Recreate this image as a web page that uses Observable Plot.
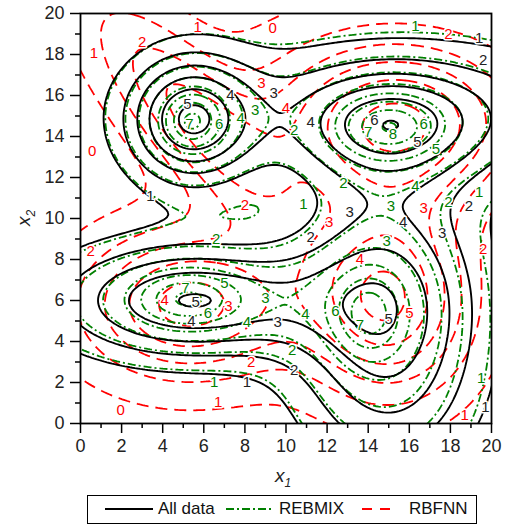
<!DOCTYPE html>
<html>
<head>
<meta charset="utf-8">
<script src="https://cdn.jsdelivr.net/npm/d3@7"></script>
<script src="https://cdn.jsdelivr.net/npm/@observablehq/plot@0.6"></script>
<style>
  html, body { margin: 0; padding: 0; background: #fff; }
  #wrap { position: relative; width: 509px; height: 526px; font-family: "Liberation Sans", Arial, sans-serif; }
  #legend { position: absolute; left: 87px; top: 495px; width: 390px; height: 29px; border: 1px solid #000; box-sizing: border-box; }
  #legend .it { position: absolute; top: 3px; font-size: 17px; line-height: 20px; color: #111; }
  #legend svg { position: absolute; top: 10px; }
</style>
</head>
<body>
<div id="wrap">
  <div id="chart"></div>
  <div id="legend"></div>
</div>
<script>
// ---- data ----
const levels = [0, 1, 2, 3, 4, 5, 6, 7, 8];
const majorTicks = [0, 2, 4, 6, 8, 10, 12, 14, 16, 18, 20];
const minorTicks = [1, 3, 5, 7, 9, 11, 13, 15, 17, 19];

// surface components: [cx, cy, sx, sy, amplitude, angleDeg]
const allDataBumps = [
  [5.35, 14.8, 2.1, 2.1, 5.45, 0],
  [15.0, 14.7, 2.8, 1.6, 2.6, 0],
  [16.0, 15.2, 7.0, 2.4, 2.7, 0],
  [15.0, 13.0, 3.0, 1.8, 0.6, 0],
  [5.3, 6.0, 4.4, 1.95, 5.0, 0],
  [14.8, 6.0, 3.2, 4.0, 4.45, 0],
  [15.2, 0.5, 3.0, 3.0, 1.25, 0]
];
const rebmixBumps = [
  [5.35, 14.8, 2.1, 2.1, 5.0, 0],
  [5.4, 14.7, 1.0, 1.0, 2.4, 0],
  [15.0, 14.7, 2.8, 1.6, 2.4, 0],
  [15.0, 14.4, 1.6, 1.0, 2.4, 0],
  [16.0, 15.3, 7.0, 2.6, 2.7, 0],
  [15.0, 13.0, 3.0, 1.8, 0.6, 0],
  [5.3, 6.0, 4.2, 1.9, 4.8, 0],
  [5.2, 6.1, 1.6, 0.9, 2.4, 0],
  [14.6, 5.9, 3.0, 3.8, 4.4, 0],
  [14.0, 5.3, 1.2, 1.5, 2.6, 0],
  [15.2, 0.5, 3.0, 3.0, 1.2, 0]
];
const rbfnnBumps = [
  [5.5, 15.0, 5.0, 1.7, 3.6, -49],
  [15.3, 14.7, 4.5, 3.0, 5.8, 0],
  [5.3, 5.8, 3.6, 2.5, 5.0, 0],
  [15.0, 6.0, 2.8, 3.2, 5.6, 0]
];
const rbfnnOffset = -0.6;

// contour labels: [x1, x2, text]
const allDataLabels = [
  [3.4, 11.1, "1"], [19.4, 18.8, "1"], [19.6, 17.7, "2"], [9.4, 16.1, "3"], [7.3, 16.0, "4"],
  [5.2, 15.6, "5"], [11.2, 14.7, "4"], [14.3, 14.8, "6"], [16.4, 13.7, "5"], [11.2, 9.1, "2"],
  [13.1, 10.3, "3"], [15.7, 9.8, "4"], [17.6, 9.3, "3"], [18.9, 10.6, "2"], [5.6, 5.9, "5"],
  [5.4, 5.0, "4"], [9.6, 4.95, "3"], [8.1, 2.0, "1"], [10.4, 2.6, "2"], [15.0, 5.1, "5"],
  [19.7, 0.8, "1"]
];
const rebmixLabels = [
  [16.3, 19.4, "1"], [10.4, 14.3, "2"], [14.0, 14.2, "7"], [15.2, 14.1, "8"], [16.7, 14.6, "6"],
  [17.3, 13.4, "5"], [16.3, 11.6, "4"], [15.1, 10.6, "3"], [17.9, 10.8, "2"], [19.4, 11.3, "1"],
  [10.85, 10.7, "1"], [12.8, 11.7, "2"], [5.3, 14.6, "7"], [6.75, 14.6, "6"], [7.8, 14.9, "4"],
  [8.5, 15.3, "3"], [6.6, 9.0, "2"], [5.1, 6.6, "7"], [6.2, 5.4, "6"], [7.0, 6.85, "5"],
  [8.1, 4.95, "4"], [9.0, 6.1, "3"], [6.5, 2.0, "1"], [14.9, 8.9, "3"], [10.95, 5.35, "4"],
  [12.4, 5.5, "6"], [13.6, 4.8, "7"], [10.3, 3.6, "2"], [19.5, 2.2, "1"]
];
const rbfnnLabels = [
  [5.7, 19.35, "1"], [9.35, 19.3, "0"], [3.0, 18.6, "2"], [0.65, 18.05, "1"], [0.57, 13.3, "0"],
  [8.8, 16.6, "3"], [8.0, 10.65, "2"], [17.9, 19.0, "2"], [10.0, 15.4, "4"], [16.7, 10.5, "3"],
  [12.1, 9.8, "3"], [0.5, 8.4, "2"], [4.1, 6.0, "4"], [7.2, 5.7, "3"], [8.3, 3.0, "2"],
  [6.7, 1.05, "1"], [1.95, 0.65, "0"], [19.6, 8.5, "2"], [16.0, 5.4, "5"], [13.6, 8.0, "4"],
  [18.7, 0.4, "1"]
];

const series = ["All data", "REBMIX", "RBFNN"];
const colors = ["#000000", "#008000", "#ff0000"];
const dashes = ["none", "8,3,2,3", "12,7"];

// ---- sampling the surfaces on a grid ----
const N = 170, G0 = -0.5, G1 = 20.5;
function grid(bumps, offset = 0) {
  const v = new Float64Array(N * N);
  const step = (G1 - G0) / N;
  for (let j = 0; j < N; j++) {
    const y = G0 + (j + 0.5) * step;
    for (let i = 0; i < N; i++) {
      const x = G0 + (i + 0.5) * step;
      let s = offset;
      for (const [cx, cy, sx, sy, a, ang] of bumps) {
        const t = ang * Math.PI / 180, c = Math.cos(t), sn = Math.sin(t);
        const dx = x - cx, dy = y - cy;
        const u = (dx * c + dy * sn) / sx, w = (-dx * sn + dy * c) / sy;
        s += a * Math.exp(-0.5 * (u * u + w * w));
      }
      v[j * N + i] = s;
    }
  }
  return v;
}
const fields = [grid(allDataBumps), grid(rebmixBumps), grid(rbfnnBumps, rbfnnOffset)];
const labelSets = [allDataLabels, rebmixLabels, rbfnnLabels];

const contourMarks = [2, 1, 0].map(k => Plot.contour(fields[k], {
  width: N, height: N, x1: G0, y1: G0, x2: G1, y2: G1,
  value: Plot.identity, thresholds: levels,
  stroke: colors[k], strokeWidth: k === 0 ? 1.9 : 1.8, strokeDasharray: dashes[k] === "none" ? null : dashes[k],
  fill: "none", clip: true
}));
const labelMarks = [2, 1, 0].map(k => Plot.text(labelSets[k], {
  x: d => d[0], y: d => d[1], text: d => d[2],
  fill: k === 0 ? "#222" : colors[k], fontSize: 15,
  stroke: "white", strokeWidth: 3, paintOrder: "stroke"
}));

const chart = Plot.plot({
  width: 509, height: 493,
  marginLeft: 80, marginRight: 18, marginTop: 13, marginBottom: 70,
  style: { fontFamily: "Liberation Sans, Arial, sans-serif", background: "white" },
  x: { domain: [0, 20] },
  y: { domain: [0, 20] },
  marks: [
    ...contourMarks,
    ...labelMarks,
    Plot.axisX({ ticks: minorTicks, tickSize: 5, text: null, label: null, strokeWidth: 1.5 }),
    Plot.axisX({ ticks: majorTicks, tickSize: 10, tickPadding: 6, tickFormat: d => String(d), fontSize: 18, label: null, strokeWidth: 1.5, fill: "#222" }),
    Plot.axisY({ ticks: minorTicks, tickSize: 5, text: null, label: null, strokeWidth: 1.5 }),
    Plot.axisY({ ticks: majorTicks, tickSize: 10, tickPadding: 6, tickFormat: d => String(d), fontSize: 18, label: null, strokeWidth: 1.5, fill: "#222" }),
    Plot.frame({ stroke: "black", strokeWidth: 1.8 })
  ]
});
document.getElementById("chart").appendChild(chart);

// axis titles with subscripts
const svg = d3.select(chart);
const xt = svg.append("text").attr("x", 283).attr("y", 482).attr("font-size", 19)
  .attr("font-style", "italic").attr("text-anchor", "middle").attr("fill", "#222")
  .attr("font-family", "Liberation Sans, Arial, sans-serif");
xt.append("tspan").text("x");
xt.append("tspan").attr("font-size", 12).attr("dy", 5).text("1");
const yt = svg.append("text").attr("transform", "translate(30,218) rotate(-90)").attr("font-size", 19)
  .attr("font-style", "italic").attr("text-anchor", "middle").attr("fill", "#222")
  .attr("font-family", "Liberation Sans, Arial, sans-serif");
yt.append("tspan").text("x");
yt.append("tspan").attr("font-size", 12).attr("dy", 5).text("2");

// legend: [line start, line end, text start] in px inside the box
const legX = [[17, 65, 70], [138, 186, 191], [274, 306, 321]];
const legDash = ["none", "8,3,2,3", "10,8"];
const leg = document.getElementById("legend");
series.forEach((name, k) => {
  const [sx, ex, tx] = legX[k];
  const s = d3.create("svg").attr("width", ex - sx).attr("height", 6).style("left", sx + "px");
  s.append("line").attr("x1", 0).attr("x2", ex - sx).attr("y1", 3).attr("y2", 3)
    .attr("stroke", colors[k]).attr("stroke-width", 2)
    .attr("stroke-dasharray", legDash[k] === "none" ? null : legDash[k]);
  leg.appendChild(s.node());
  const t = document.createElement("div");
  t.className = "it"; t.style.left = tx + "px"; t.textContent = name;
  leg.appendChild(t);
});
</script>
</body>
</html>
